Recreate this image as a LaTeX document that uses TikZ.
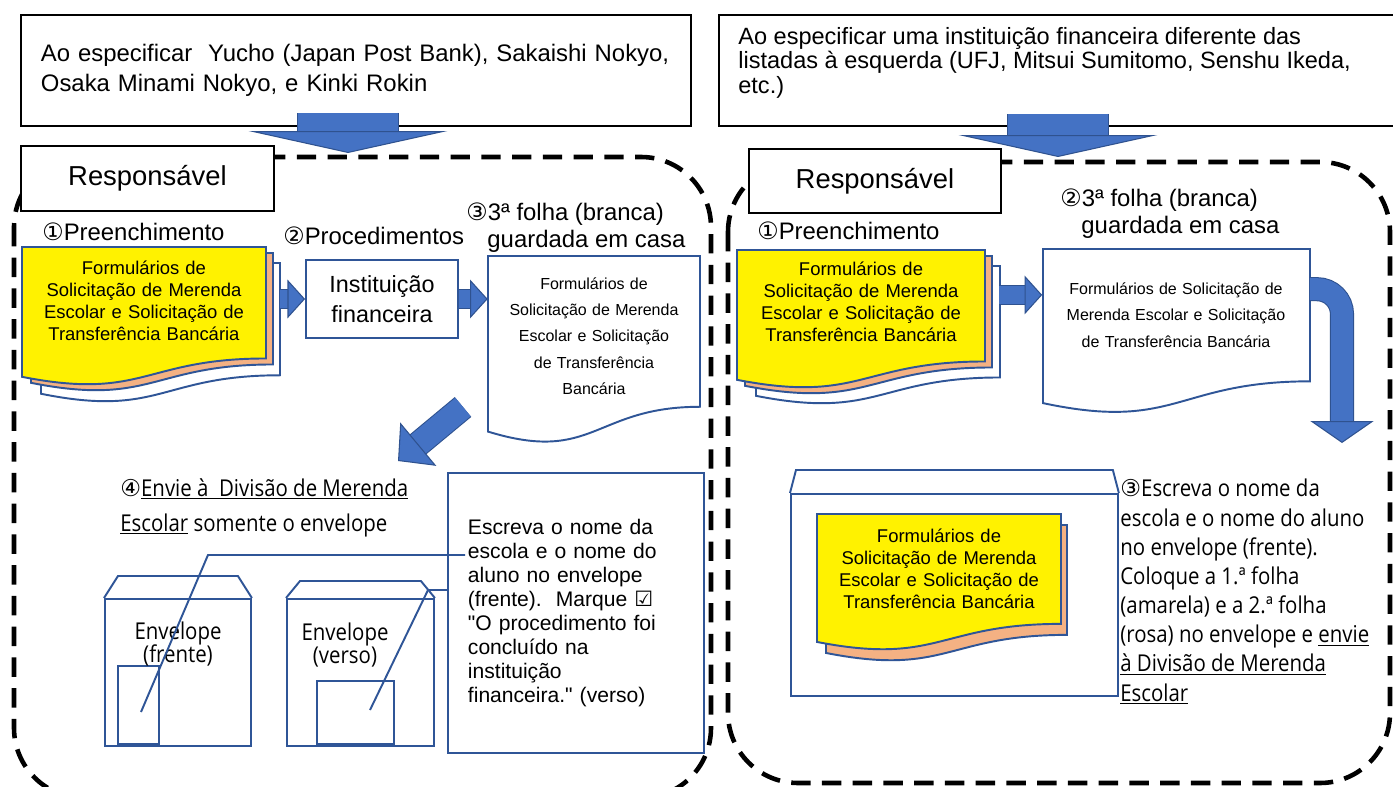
\documentclass[tikz,border=0pt]{standalone}
\usepackage{fontspec}
\setmainfont{Liberation Sans}
\newfontfamily\uifont[FakeStretch=0.88]{Open Sans}
\newfontfamily\symfont{DejaVu Sans}
\usetikzlibrary{arrows.meta, positioning, calc}

\definecolor{arrowblue}{HTML}{4472C4}
\definecolor{edgeblue}{HTML}{2F528F}
\definecolor{lineblue}{HTML}{2F5597}
\definecolor{salmon}{HTML}{F4B183}

% sheet with wavy lower edge: style, x, y, width, height (px)
\newcommand{\sheet}[5]{%
  \draw[#1] (#2,#3) -- ({#2+#4},#3) -- ({#2+#4},{#3+0.802*#5})
    .. controls ({#2+0.5*#4},{#3+0.802*#5}) and ({#2+0.5*#4},{#3+1.107*#5}) .. (#2,{#3+0.934*#5}) -- cycle;}
\newcommand{\circled}[1]{{\symfont #1}}

\begin{document}
\begin{tikzpicture}[
    x=0.02cm, y=-0.02cm,
    box/.style={draw, line width=1.1pt, fill=white, inner sep=0pt},
    frame/.style={line width=2.6pt, dash pattern=on 11pt off 6.5pt, rounded corners=1.4cm},
    paper/.style={draw=lineblue, line width=1.1pt},
    outline/.style={draw=lineblue, line width=1.1pt, inner sep=0pt},
    steptext/.style={inner sep=0pt, align=left},
    formtext/.style={inner sep=0pt, align=center, font=\fontsize{10.5}{12.5}\selectfont},
    keeptext/.style={inner sep=0pt, align=center, font=\fontsize{9.1}{15}\selectfont},
    fatarrow/.style n args={5}{arrowblue, line width=#1,
      -{Triangle[width=#3, length=#4, fill=arrowblue, color=edgeblue, line width=0.6pt]},
      preaction={draw=edgeblue, line width=#2, arrows=-, shorten >=#5}},
    callout/.style={draw=lineblue, line width=1.1pt}
]
\useasboundingbox (0,0) rectangle (1393,787);
\fill[white] (0,0) rectangle (1393,787);

% Upper boxes
\node[box, anchor=north west, minimum width=13.4cm, minimum height=2.22cm, text width=12.6cm, align=left,
  font=\fontsize{13.6}{17}\selectfont] (bankL) at (20,14)
  {Ao especificar\ \ Yucho (Japan Post Bank), Sakaishi Nokyo,\\Osaka Minami Nokyo, e Kinki Rokin};
\node[box, anchor=north west, minimum width=14cm, minimum height=2.22cm] (bankR) at (718,14) {};
\node[steptext, anchor=north west, font=\fontsize{13.4}{13.9}\selectfont] (bankRtext) at (738,27)
  {Ao especificar uma instituição financeira diferente das\\listadas à esquerda (UFJ, Mitsui Sumitomo, Senshu Ikeda,\\etc.)};

% Dashed frames
\draw[frame] (14,157) rectangle (711,798);
\draw[frame] (728,162) rectangle (1390,783);

\node[box, anchor=north west, minimum width=5.06cm, minimum height=1.3cm, font=\fontsize{15.6}{18}\selectfont] (userL) at (20,145) {Responsável};
\node[box, anchor=north west, minimum width=5.04cm, minimum height=1.28cm, font=\fontsize{15.6}{18}\selectfont] (userR) at (748,148) {Responsável};

% Down arrows
\coordinate (intoL) at (348,153);
\coordinate (intoR) at (1058,157);
\draw[fatarrow={57pt}{58.2pt}{113pt}{12.5pt}{11.5pt}] ($(intoL |- bankL.south)+(0,-14)$) -- (intoL);
\draw[fatarrow={57pt}{58.2pt}{113pt}{12.5pt}{11.5pt}] ($(intoR |- bankR.south)+(0,-13)$) -- (intoR);

% Left: nodes
\node[steptext, anchor=base west, font=\fontsize{13.6}{16}\selectfont] (fillL) at (42,241) {\circled{①}Preenchimento};
\sheet{paper, fill=white}{41}{263}{239}{140}
\sheet{paper, fill=salmon}{31}{253}{242}{139}
\sheet{paper, fill=yellow}{22}{247}{244}{139}
\node[formtext, text width=4.88cm] (formL) at (144,301)
  {Formulários de\\Solicitação de Merenda\\Escolar e Solicitação de\\Transferência Bancária};

\node[steptext, anchor=base west, font=\fontsize{13.6}{16}\selectfont] (procL) at (283,245) {\circled{②}Procedimentos};
\node[outline, fill=white, minimum width=3.04cm, minimum height=1.56cm, align=center,
  font=\fontsize{13.3}{17}\selectfont] (inst) at (382,299) {Instituição\\financeira};

\node[steptext, anchor=base west, font=\fontsize{13.6}{15.9}\selectfont] (homeL) at (466,248)
  {\circled{③}3ª folha (branca)\\\hspace*{12pt}guardada em casa};
\sheet{paper, fill=white}{488}{256}{212}{188}
\node[keeptext, text width=4.24cm] (keepL) at (594,336)
  {Formulários de\\Solicitação de Merenda\\Escolar e Solicitação\\de Transferência\\Bancária};

\node[steptext, anchor=base west, font=\uifont\fontsize{13.2}{15}\selectfont] (sendL) at (120,496)
  {\circled{④}\underline{Envie à\ \ Divisão de Merenda}};
\node[steptext, anchor=base west, font=\uifont\fontsize{13.2}{15}\selectfont] (sendL2) at (120,531)
  {\underline{Escolar} somente o envelope};

% Left: envelopes
\node[outline, anchor=north west, minimum width=2.92cm, minimum height=2.94cm] (envA) at (104,598) {};
\draw[paper] (envA.north west) -- ++(14,-22) -- ($(envA.north east)+(-14,-22)$) -- (envA.north east);
\node[outline, anchor=south west, minimum width=0.82cm, minimum height=1.56cm] (winA) at ($(envA.south west)+(13,-2)$) {};
\node[inner sep=0pt, align=center, font=\uifont\fontsize{13.2}{13.5}\selectfont] (labA) at (178,644) {Envelope\\(frente)};

\node[outline, anchor=north west, minimum width=2.94cm, minimum height=2.94cm] (envB) at (286,598) {};
\draw[paper] (envB.north west) -- ++(14,-17) -- ($(envB.north east)+(-14,-17)$) -- (envB.north east);
\node[outline, anchor=south west, minimum width=1.54cm, minimum height=1.26cm] (winB) at ($(envB.south west)+(30,-2)$) {};
\node[inner sep=0pt, align=center, font=\uifont\fontsize{13.2}{13.5}\selectfont] (labB) at (345,645) {Envelope\\(verso)};

\node[outline, fill=white, anchor=north west, minimum width=5.12cm, minimum height=5.6cm, text width=4.32cm,
  align=left, font=\fontsize{12}{13.6}\selectfont] (note) at (447,472)
  {Escreva o nome da\\escola e o nome do\\aluno no envelope\\(frente).\ \ Marque {\symfont ☑}\\\textquotedbl O procedimento foi\\concluído na\\instituição\\financeira.\textquotedbl\ (verso)};

% Left: edges
\draw[fatarrow={10pt}{11.2pt}{22pt}{10pt}{9pt}, shorten <=8pt] (formL.east |- inst.west) -- (inst.west);
\draw[fatarrow={10pt}{11.2pt}{22pt}{10pt}{9pt}] (inst.east) -- (inst.east -| keepL.west);
\coordinate (diagA) at (463,407);
\coordinate (diagB) at (398,461);
\draw[fatarrow={13.5pt}{14.7pt}{32pt}{15pt}{14pt}] (diagA) -- (diagB);

\coordinate (bendA) at (208,555);
\coordinate (ptA) at (141,712);
\draw[callout] ($(note.west |- bendA)+(18,0)$) -- (bendA) -- (ptA);
\coordinate (bendB) at (428,590);
\coordinate (ptB) at (370,710);
\draw[callout] (note.west |- bendB) -- (bendB) -- (ptB);

% Right: nodes
\node[steptext, anchor=base west, font=\fontsize{13.6}{16}\selectfont] (fillR) at (757,240) {\circled{①}Preenchimento};
\sheet{paper, fill=white}{756}{266}{244}{139}
\sheet{paper, fill=salmon}{745}{256}{247}{139}
\sheet{paper, fill=yellow}{737}{250}{248}{139}
\node[formtext, text width=4.96cm] (formR) at (861,302)
  {Formulários de\\Solicitação de Merenda\\Escolar e Solicitação de\\Transferência Bancária};

\node[steptext, anchor=base west, font=\fontsize{13.6}{15.9}\selectfont] (homeR) at (1060,234)
  {\circled{②}3ª folha (branca)\\\hspace*{12pt}guardada em casa};
\sheet{paper, fill=white}{1043}{249}{267}{165}
\node[keeptext, text width=5.34cm] (keepR) at (1176,315)
  {Formulários de Solicitação de\\Merenda Escolar e Solicitação\\de Transferência Bancária};

\node[outline, anchor=north west, minimum width=6.54cm, minimum height=4.04cm] (envC) at (790,493) {};
\draw[paper] (envC.north west) -- ++(6,-23) -- ($(envC.north east)+(-6,-23)$) -- (envC.north east);
\sheet{paper, fill=salmon}{826}{525}{241}{137}
\sheet{paper, fill=yellow}{817}{514}{244}{137}
\node[formtext, text width=4.88cm] (formC) at (939,569)
  {Formulários de\\Solicitação de Merenda\\Escolar e Solicitação de\\Transferência Bancária};

\node[steptext, anchor=north west, font=\uifont\fontsize{13.2}{16.6}\selectfont] (writeR) at (1120,479)
  {\circled{③}Escreva o nome da\\escola e o nome do aluno\\no envelope (frente).\\Coloque a 1.ª folha\\(amarela) e a 2.ª folha\\(rosa) no envelope e \underline{envie}\\\underline{à Divisão de Merenda}\\\underline{Escolar}};

% Right: edges
\draw[fatarrow={10pt}{11.2pt}{22pt}{10pt}{9pt}, shorten <=8pt] ([yshift=4pt]formR.east) -- ([yshift=4pt]formR.east -| keepR.west);
\coordinate (downR) at (1342,443);
\draw[fatarrow={12.5pt}{13.7pt}{36pt}{12.5pt}{11.5pt}, rounded corners=0.5cm] ([yshift=14.7pt]keepR.east) -| (downR);

\end{tikzpicture}
\end{document}
